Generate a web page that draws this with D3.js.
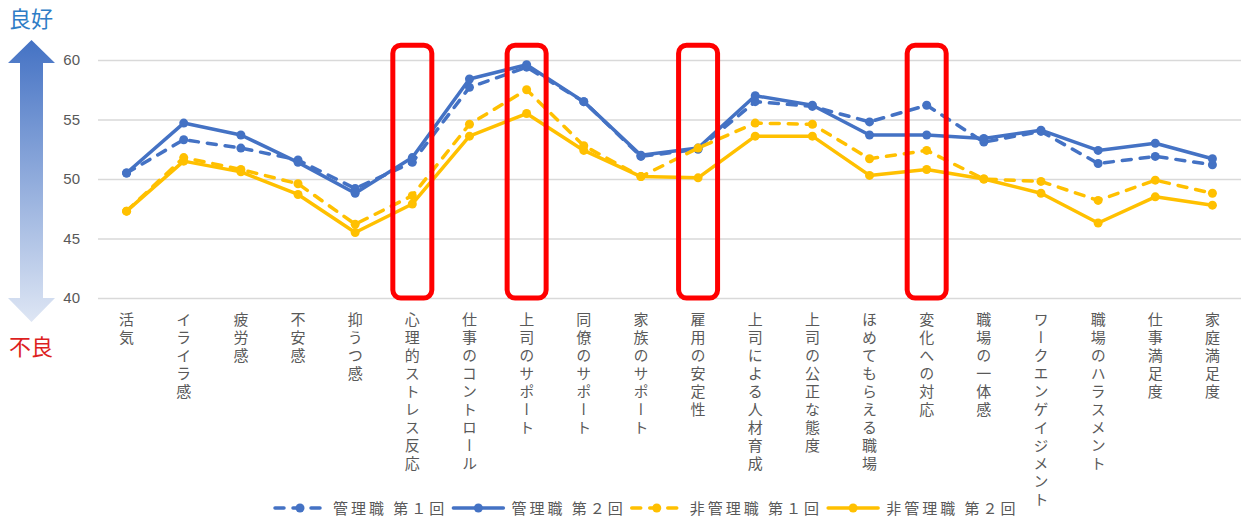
<!DOCTYPE html>
<html><head><meta charset="utf-8">
<script src="https://cdn.jsdelivr.net/npm/d3@7"></script>
<style>
html,body{margin:0;padding:0;background:#fff;}
svg{display:block;font-family:"Noto Sans CJK JP","Noto Sans",sans-serif;}
</style></head>
<body>
<svg id="chart" width="1245" height="519"></svg>
<script>
const categories = ["活気","イライラ感","疲労感","不安感","抑うつ感","心理的ストレス反応","仕事のコントロール","上司のサポート","同僚のサポート","家族のサポート","雇用の安定性","上司による人材育成","上司の公正な態度","ほめてもらえる職場","変化への対応","職場の一体感","ワークエンゲイジメント","職場のハラスメント","仕事満足度","家庭満足度"];
const mgr1    = [50.5,53.3,52.6,51.6,49.2,51.4,57.7,59.4,56.5,51.9,52.5,56.5,56.1,54.8,56.2,53.1,54.0,51.3,51.9,51.2];
const mgr2    = [50.5,54.7,53.7,51.4,48.8,51.8,58.4,59.6,56.5,52.0,52.6,57.0,56.2,53.7,53.7,53.4,54.1,52.4,53.0,51.7];
const nonMgr1 = [47.3,51.8,50.8,49.6,46.2,48.6,54.6,57.5,52.8,50.2,52.6,54.7,54.6,51.7,52.4,50.0,49.8,48.2,49.9,48.8];
const nonMgr2 = [47.3,51.5,50.6,48.7,45.5,47.9,53.6,55.5,52.4,50.2,50.1,53.6,53.6,50.3,50.8,50.0,48.8,46.3,48.5,47.8];
const seriesNames = ["管理職 第１回","管理職 第２回","非管理職 第１回","非管理職 第２回"];
const yTicks = [40,45,50,55,60];
const highlighted = ["心理的ストレス反応","上司のサポート","雇用の安定性","変化への対応"];

const series = [
  {name: seriesNames[0], values: mgr1,    color:"#4472c4", dashed:true},
  {name: seriesNames[1], values: mgr2,    color:"#4472c4", dashed:false},
  {name: seriesNames[2], values: nonMgr1, color:"#ffc000", dashed:true},
  {name: seriesNames[3], values: nonMgr2, color:"#ffc000", dashed:false}
];

const svg = d3.select("#chart");
const x = d3.scaleBand().domain(categories).range([98, 1241]);
const y = d3.scaleLinear().domain([40, 60]).range([298, 60]);
const cx = d => x(d) + x.bandwidth()/2;

// gridlines
const yAxis = d3.axisLeft(y).tickValues(yTicks).tickSize(-(1241-98)).tickPadding(18);
const gy = svg.append("g").attr("transform","translate(98,0)").call(yAxis);
gy.select(".domain").remove();
gy.selectAll(".tick line").attr("stroke","#d9d9d9").attr("stroke-width",1.3);
gy.selectAll(".tick text").attr("fill","#595959").attr("font-size",15)
  .attr("font-family","'Liberation Sans',Arial,sans-serif");

// x labels vertical
svg.append("g").selectAll("text").data(categories).join("text")
  .attr("x", d => cx(d)).attr("y", 312)
  .style("writing-mode","vertical-rl")
  .attr("font-size",15).attr("letter-spacing",3).attr("fill","#595959")
  .text(d => d);

// arrow
const defs = svg.append("defs");
const grad = defs.append("linearGradient").attr("id","ag").attr("x1",0).attr("y1",0).attr("x2",0).attr("y2",1);
grad.append("stop").attr("offset","0%").attr("stop-color","#4472c4");
grad.append("stop").attr("offset","100%").attr("stop-color","#dee6f4");
svg.append("path")
  .attr("d","M31.5,40 L55,63 L43,63 L43,298 L55,298 L31.5,322 L8,298 L20,298 L20,63 L8,63 Z")
  .attr("fill","url(#ag)");
svg.append("text").attr("x",9).attr("y",27).attr("font-size",22).attr("fill","#2e7dc6").text("良好");
svg.append("text").attr("x",9).attr("y",355).attr("font-size",22).attr("fill","#dd1f1f").text("不良");

// lines
const line = d3.line().x((v,i) => cx(categories[i])).y(v => y(v));
series.forEach(s => {
  const g = svg.append("g");
  g.append("path").attr("d", line(s.values)).attr("fill","none")
    .attr("stroke", s.color).attr("stroke-width",3.5)
    .attr("stroke-linejoin","round").attr("stroke-linecap", "round")
    .attr("stroke-dasharray", s.dashed ? "9,9" : null);
  g.selectAll("circle").data(s.values).join("circle")
    .attr("cx",(v,i)=>cx(categories[i])).attr("cy",v=>y(v)).attr("r",4.5).attr("fill",s.color);
});

// highlight boxes
svg.append("g").selectAll("rect").data(highlighted).join("rect")
  .attr("x", d => cx(d) - 19.5).attr("width", 39)
  .attr("y", y(61.25)).attr("height", y(40) - y(61.25))
  .attr("rx", 8).attr("fill","none").attr("stroke","#ff0000").attr("stroke-width",5);

// legend
const lg = svg.append("g");
let lx = 275;
const ly = 508;
series.forEach(s => {
  const it = lg.append("g");
  it.append("line").attr("x1",lx).attr("x2",lx+50).attr("y1",ly).attr("y2",ly)
    .attr("stroke",s.color).attr("stroke-width",3.5).attr("stroke-linecap","round")
    .attr("stroke-dasharray", s.dashed ? "9,9" : null);
  it.append("circle").attr("cx",lx+25).attr("cy",ly).attr("r",4.5).attr("fill",s.color);
  const t = it.append("text").attr("x",lx+58).attr("y",ly+5.5).attr("font-size",15)
    .attr("letter-spacing",3).attr("fill","#595959").text(s.name);
  lx = lx + 58 + t.node().getComputedTextLength() + 6;
});
</script>
</body></html>
